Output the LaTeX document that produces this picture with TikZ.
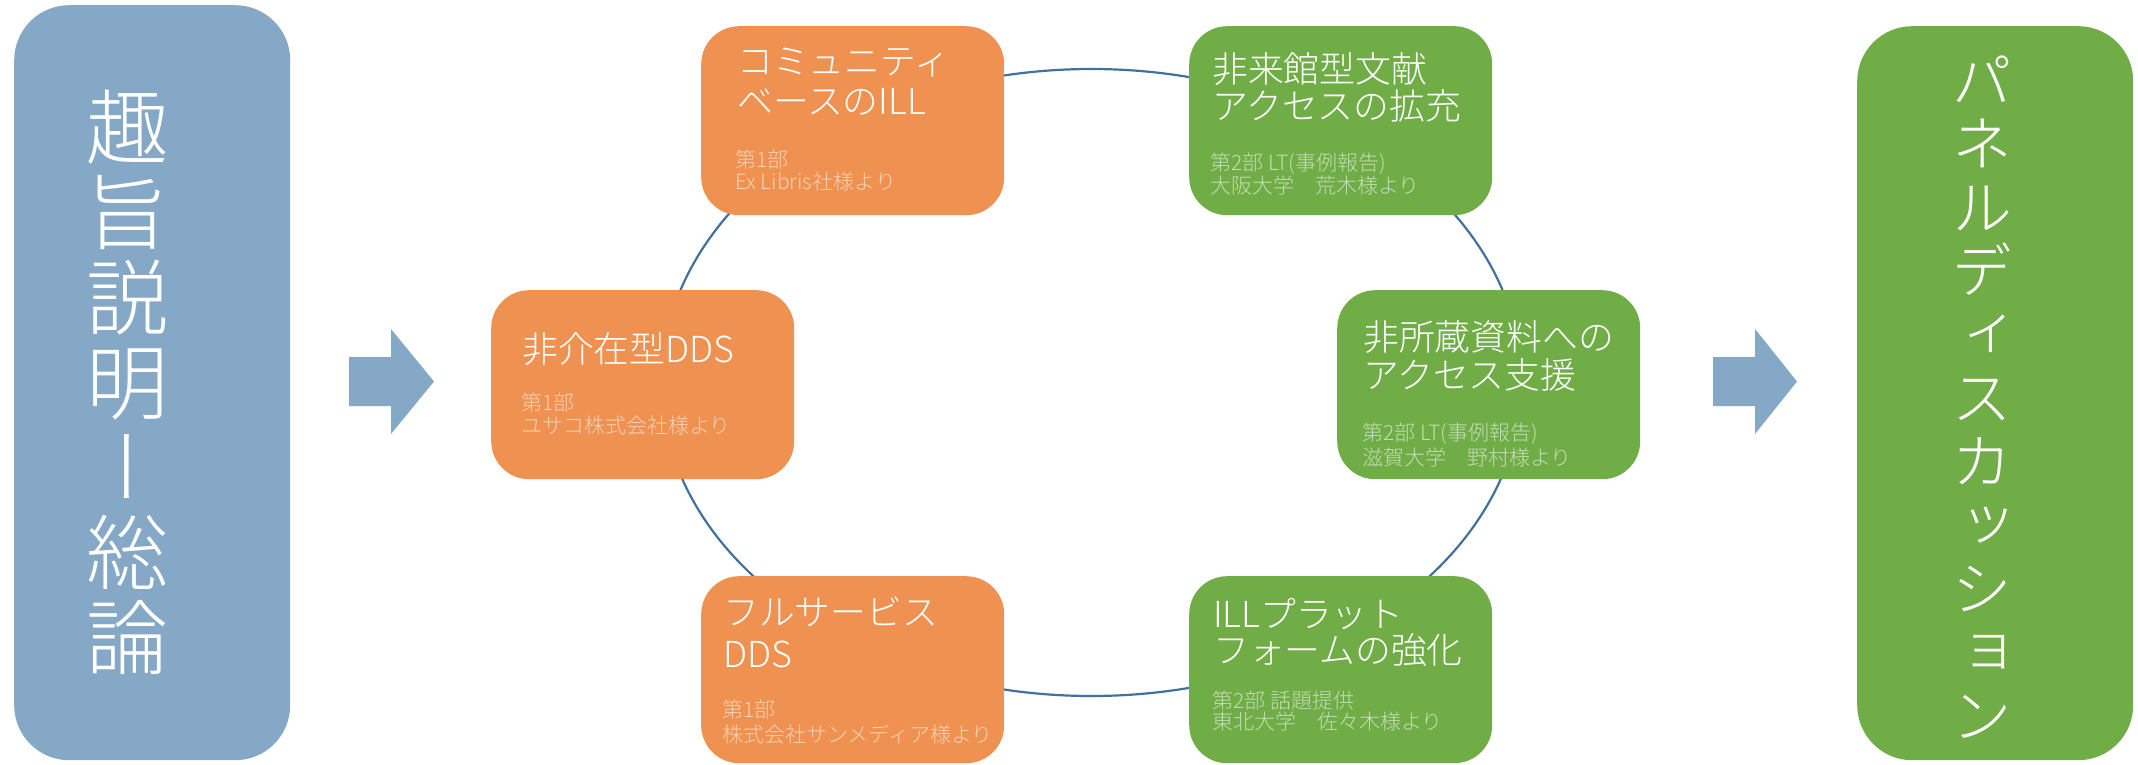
\documentclass[tikz,border=0pt]{standalone}
\usepackage{fontspec}
\setmainfont{Noto Sans CJK JP}
\newfontfamily\cjk{Noto Sans CJK JP Light}
\newfontfamily\cjkv[RawFeature=+vert]{Noto Sans CJK JP Light}
\definecolor{orng}{RGB}{239,145,80}
\definecolor{grn}{RGB}{112,173,71}
\definecolor{bgray}{RGB}{134,168,199}
\definecolor{ring}{RGB}{65,113,156}
\tikzset{
  boxo/.style={fill=orng, rounded corners=38pt, minimum width=303pt, minimum height=189pt, inner sep=0pt, anchor=north west},
  boxg/.style={boxo, fill=grn},
  side/.style={rounded corners=55pt, inner sep=0pt, anchor=north west, minimum width=276pt, minimum height=755pt},
  ttl/.style={anchor=base west, inner sep=0pt, text=white, font=\cjk\fontsize{35.8}{38}\selectfont},
  subo/.style={anchor=base west, inner sep=0pt, text=white!58!orng, font=\cjk\fontsize{21}{23}\selectfont},
  subg/.style={subo, text=white!58!grn},
  vtxt/.style={align=center, inner sep=0pt, text=white},
  blockarrow/.style={fill=bgray, draw=none}
}
\begin{document}
\begin{tikzpicture}[x=1pt,y=-1pt]
\useasboundingbox (0,0) rectangle (2138,765);
% ring
\draw[ring, line width=2.2pt] (1091.5,382.5) ellipse [x radius=430, y radius=313.5];
% side boxes
\node[side, fill=bgray] (left) at (14,5) {};
\node[side, fill=grn, minimum height=734pt] (right) at (1857,26) {};
\node[vtxt, font=\cjkv\fontsize{82}{85}\selectfont] (lefttxt) at (127,382) {趣\\旨\\説\\明\\ー\\総\\論};
\node[vtxt, font=\cjkv\fontsize{61}{63.5}\selectfont] (righttxt) at (1982,397) {パ\\ネ\\ル\\デ\\ィ\\ス\\カ\\ッ\\シ\\ョ\\ン};
% arrows
\fill[blockarrow] (349,357) -- (391,357) -- (391,329) -- (434,381.5) -- (391,434) -- (391,406) -- (349,406) -- cycle;
\fill[blockarrow] (1713,357) -- (1755,357) -- (1755,329) -- (1797,381.5) -- (1755,434) -- (1755,406) -- (1713,406) -- cycle;
% boxes
\node[boxo] (b1) at (701,26) {};
\node[boxg] (b2) at (1189,26) {};
\node[boxo] (b3) at (491,290) {};
\node[boxg] (b4) at (1337,290) {};
\node[boxo, minimum height=187pt] (b5) at (701,576) {};
\node[boxg, minimum height=187pt] (b6) at (1189,576) {};
% b1
\node[ttl] (b1t1) at (737,75) {コミュニティ};
\node[ttl] (b1t2) at (737,115) {ベースのILL};
\node[subo] (b1s1) at (735,167) {第1部};
\node[subo] (b1s2) at (735,189) {Ex Libris社様より};
% b2
\node[ttl] (b2t1) at (1212,83) {非来館型文献};
\node[ttl] (b2t2) at (1212,120) {アクセスの拡充};
\node[subg] (b2s1) at (1210,170) {第2部 LT(事例報告)};
\node[subg] (b2s2) at (1210,193) {大阪大学　荒木様より};
% b3
\node[ttl] (b3t1) at (522,362) {非介在型DDS};
\node[subo] (b3s1) at (521,410) {第1部};
\node[subo] (b3s2) at (521,433) {ユサコ株式会社様より};
% b4
\node[ttl] (b4t1) at (1363,350) {非所蔵資料への};
\node[ttl] (b4t2) at (1363,388) {アクセス支援};
\node[subg] (b4s1) at (1362,440) {第2部 LT(事例報告)};
\node[subg] (b4s2) at (1362,465) {滋賀大学　野村様より};
% b5
\node[ttl] (b5t1) at (723,625) {フルサービス};
\node[ttl] (b5t2) at (723,667) {DDS};
\node[subo] (b5s1) at (722,717) {第1部};
\node[subo] (b5s2) at (722,742) {株式会社サンメディア様より};
% b6
\node[ttl] (b6t1) at (1213,627) {ILLプラット};
\node[ttl] (b6t2) at (1213,663) {フォームの強化};
\node[subg] (b6s1) at (1212,708) {第2部 話題提供};
\node[subg] (b6s2) at (1212,729) {東北大学　佐々木様より};
\end{tikzpicture}
\end{document}
